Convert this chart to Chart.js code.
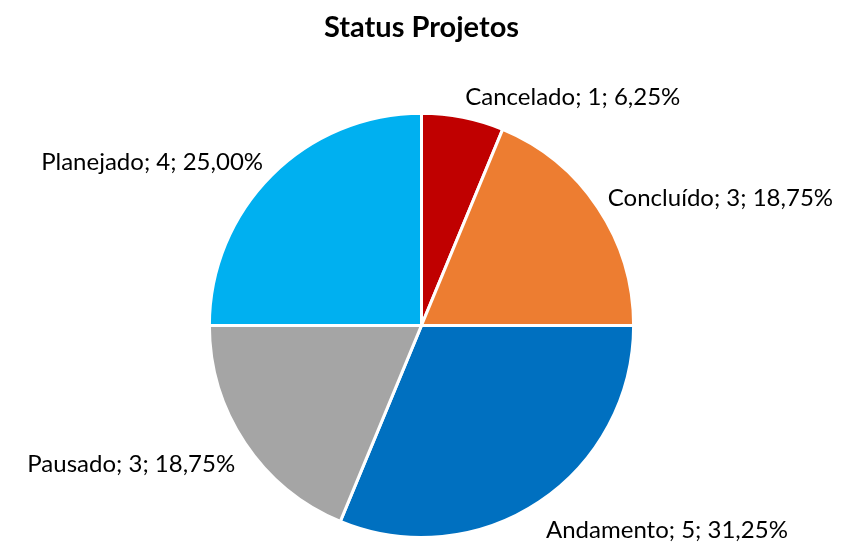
<!DOCTYPE html>
<html>
<head>
<meta charset="utf-8">
<script src="https://cdn.jsdelivr.net/npm/chart.js@4"></script>
<style>
  html, body { margin: 0; padding: 0; background: #fff; }
  #wrap { width: 843px; height: 557px; }
</style>
</head>
<body>
<div id="wrap"><canvas id="statusChart"></canvas></div>
<script>
// Status data
const statusLabels = ['Cancelado', 'Concluído', 'Andamento', 'Pausado', 'Planejado'];
const statusCounts = [1, 3, 5, 3, 4];
const statusColors = ['#C00000', '#ED7D31', '#0070C0', '#A5A5A5', '#00B0F0'];

const total = statusCounts.reduce((a, b) => a + b, 0);

function labelText(i) {
    const pct = (statusCounts[i] / total * 100).toFixed(2).replace('.', ',');
    return `${statusLabels[i]}; ${statusCounts[i]}; ${pct}%`;
}

// Draw "name; value; pct" labels outside each slice
const outsideLabels = {
    id: 'outsideLabels',
    afterDatasetsDraw(chart) {
        const ctx = chart.ctx;
        const meta = chart.getDatasetMeta(0);
        ctx.save();
        ctx.font = '24px Lato, "Liberation Sans", sans-serif';
        ctx.fillStyle = '#000';
        ctx.textBaseline = 'middle';
        meta.data.forEach((arc, i) => {
            const p = arc.getProps(['x', 'y', 'startAngle', 'endAngle', 'outerRadius'], true);
            const mid = (p.startAngle + p.endAngle) / 2;
            const rx = p.outerRadius + 12;
            const ry = p.outerRadius + 27;
            const ax = p.x + Math.cos(mid) * rx;
            const ay = p.y + Math.sin(mid) * ry + 6;
            ctx.textAlign = Math.cos(mid) >= 0 ? 'left' : 'right';
            ctx.fillText(labelText(i), ax, ay);
        });
        ctx.restore();
    }
};

const ctx = document.getElementById('statusChart').getContext('2d');
new Chart(ctx, {
    type: 'pie',
    data: {
        labels: statusLabels,
        datasets: [{
            data: statusCounts,
            backgroundColor: statusColors,
            borderColor: '#ffffff',
            borderWidth: 3
        }]
    },
    options: {
        responsive: true,
        maintainAspectRatio: false,
        animation: false,
        layout: {
            padding: { top: 0, bottom: 18, left: 0, right: 0 }
        },
        plugins: {
            legend: { display: false },
            tooltip: { enabled: false },
            title: {
                display: true,
                text: 'Status Projetos',
                color: '#000',
                font: { family: 'Lato, "Liberation Sans", sans-serif', size: 29, weight: 'bold' },
                padding: { top: 10, bottom: 67 }
            }
        }
    },
    plugins: [outsideLabels]
});
</script>
</body>
</html>
